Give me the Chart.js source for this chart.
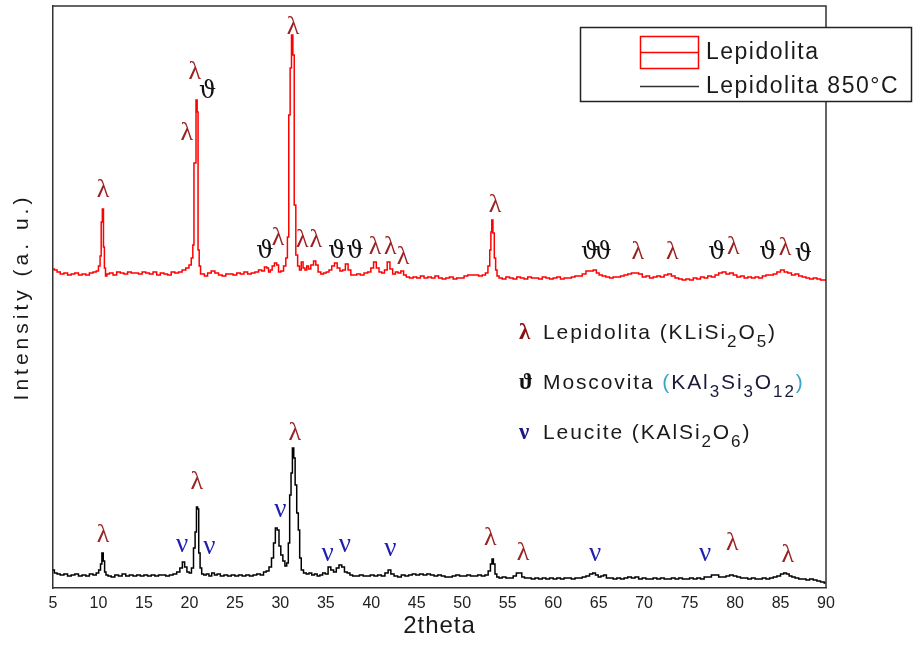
<!DOCTYPE html>
<html>
<head>
<meta charset="utf-8">
<script src="https://cdn.jsdelivr.net/npm/chart.js@4.4.0/dist/chart.umd.min.js"></script>
<style>
  html, body { margin: 0; padding: 0; background: #fff; }
</style>
</head>
<body>
<canvas id="myChart" width="922" height="647"></canvas>
<script>
// 2theta / intensity (a.u.)
const redTheta = [
  5, 5.3, 5.6, 6.0, 6.4, 6.8, 7.2, 7.6, 8.0, 8.4, 8.8, 9.2, 9.6, 9.9, 10.1,
  10.25, 10.35, 10.5, 10.6, 10.7, 10.85,
  11.0, 11.4, 11.8, 12.2, 12.6, 13.0, 13.4, 13.8, 14.2, 14.6, 15.0, 15.4, 15.8, 16.2, 16.6, 17.0, 17.4, 17.8, 18.2, 18.6, 19.0, 19.4, 19.8, 20.1,
  20.3, 20.45, 20.55, 20.65, 20.8, 20.9, 21.0, 21.15, 21.3,
  21.5, 21.8, 22.2, 22.6, 23.0, 23.4, 23.8, 24.2, 24.6, 25.0, 25.4, 25.8, 26.2, 26.6, 27.0, 27.4, 27.8, 28.1,
  28.4, 28.6, 28.8, 29.0, 29.2, 29.5, 29.7, 29.9, 30.2, 30.5, 30.7,
  30.85, 31.0, 31.15, 31.3, 31.45, 31.6, 31.8, 32.0,
  32.2, 32.4, 32.6, 32.8, 33.0, 33.2, 33.5, 33.8, 34.0, 34.3, 34.6, 34.9, 35.2, 35.5, 35.8, 36.1, 36.4, 36.7, 37.0, 37.3, 37.6, 37.9,
  38.2, 38.6, 39.0, 39.4, 39.8, 40.1, 40.4, 40.7, 41.0, 41.3, 41.6, 41.9, 42.2, 42.5, 42.8, 43.1, 43.4, 43.7,
  44.0, 44.4, 44.8, 45.2, 45.6, 46.0, 46.4, 46.8, 47.2, 47.6, 48.0, 48.4, 48.8, 49.2, 49.6, 50.0, 50.4, 50.8, 51.2, 51.6, 52.0, 52.4, 52.7, 52.95,
  53.1, 53.2, 53.3, 53.45, 53.6, 53.75, 53.9,
  54.2, 54.6, 55.0, 55.4, 55.8, 56.2, 56.6, 57.0, 57.4, 57.8, 58.2, 58.6, 59.0, 59.4, 59.8, 60.2, 60.6, 61.0, 61.4, 61.8, 62.2, 62.6,
  63.0, 63.4, 63.8, 64.2, 64.6, 64.9, 65.2, 65.6, 66.0, 66.4, 66.8, 67.2, 67.6, 68.0, 68.4, 68.8, 69.2, 69.6, 70.0, 70.4, 70.8, 71.2, 71.6, 72.0, 72.4, 72.8, 73.2, 73.6,
  74.0, 74.4, 74.8, 75.2, 75.6, 76.0, 76.4, 76.8, 77.2, 77.6, 78.0, 78.4, 78.8, 79.2, 79.6, 80.0, 80.4, 80.8, 81.2, 81.6, 82.0,
  82.4, 82.8, 83.2, 83.6, 84.0, 84.4, 84.8, 85.2, 85.6, 86.0, 86.4, 86.8, 87.2, 87.6, 88.0, 88.4, 88.8, 89.2, 89.6, 90.0
];
const redCounts = [
  319, 318, 316, 314, 315, 313, 314, 315, 313, 314, 313, 315, 316, 317, 322,
  332, 366, 379, 341, 320, 312,
  314, 315, 313, 316, 315, 314, 316, 315, 315, 314, 316, 315, 314, 316, 313, 315, 314, 313, 316, 315, 316, 318, 320, 323,
  330, 343, 425, 425, 488, 476, 338, 322, 314,
  314, 312, 315, 317, 315, 313, 312, 314, 314, 313, 315, 314, 316, 314, 315, 316, 318, 317,
  321, 320, 316, 318, 322, 325, 323, 316, 317, 322, 330,
  351, 473, 520, 553, 533, 383, 333, 322,
  318, 326, 320, 318, 322, 319, 323, 327, 323, 316, 314, 315, 316, 318, 322, 325, 320, 317, 318, 324, 318, 313,
  313, 314, 313, 315, 316, 320, 326, 320, 316, 315, 318, 326, 319, 314, 316, 315, 317, 313,
  311, 310, 311, 310, 312, 310, 311, 310, 312, 310, 309, 310, 311, 309, 310, 310, 312, 313, 313, 313, 312, 313, 315, 322,
  338, 356, 368, 355, 330, 318, 312,
  310, 309, 311, 310, 309, 311, 310, 309, 311, 310, 310, 309, 311, 310, 309, 310, 311, 309, 310, 310, 311, 312,
  312, 314, 317, 317, 318, 315, 313, 312, 311, 310, 311, 311, 312, 313, 314, 315, 315, 314, 311, 312, 310, 311, 312, 311, 313, 314, 312, 310,
  309, 308, 309, 308, 310, 309, 311, 310, 312, 311, 313, 315, 316, 314, 315, 313, 311, 312, 310, 311, 310,
  311, 310, 312, 313, 313, 314, 316, 318, 316, 315, 313, 314, 312, 311, 310, 309, 310, 309, 308, 308
];

const blackTheta = [
  5.0, 5.3, 5.6, 6.0, 6.4, 6.8, 7.2, 7.6, 8.0, 8.4, 8.8, 9.2, 9.6, 9.9,
  10.15, 10.3, 10.45, 10.6, 10.75, 10.9,
  11.2, 11.6, 12.0, 12.4, 12.8, 13.2, 13.6, 14.0, 14.4, 14.8, 15.2, 15.6, 16.0, 16.4, 16.8, 17.2, 17.6, 18.0, 18.4,
  18.8, 19.1, 19.35, 19.6, 19.85, 20.1,
  20.35, 20.55, 20.7, 20.85, 20.95, 21.1, 21.25, 21.45,
  21.7, 22.0, 22.3, 22.6, 22.9, 23.2, 23.6, 24.0, 24.4, 24.8, 25.2, 25.6, 26.0, 26.4, 26.8, 27.2, 27.6, 28.0,
  28.3, 28.6, 28.9, 29.15, 29.35, 29.55, 29.75, 29.95, 30.15, 30.4, 30.6,
  30.8, 30.95, 31.1, 31.25, 31.4, 31.55, 31.7, 31.9, 32.05, 32.2, 32.4,
  32.7, 33.0, 33.3, 33.6, 33.9, 34.2, 34.5, 34.8, 35.1, 35.4, 35.7, 36.0, 36.3, 36.6, 36.9, 37.2, 37.5, 37.8,
  38.1, 38.5, 38.9, 39.3, 39.7, 40.1, 40.5, 40.9, 41.3, 41.7, 42.0, 42.3, 42.7, 43.1, 43.5, 43.9, 44.3, 44.7,
  45.1, 45.5, 45.9, 46.3, 46.7, 47.1, 47.5, 47.9, 48.3, 48.7, 49.1, 49.5, 49.9, 50.3, 50.7, 51.1, 51.5, 51.9, 52.3, 52.7,
  53.0, 53.2, 53.35, 53.5, 53.7, 53.9,
  54.2, 54.6, 55.0, 55.4, 55.8, 56.1, 56.4, 56.7, 57.0, 57.4, 57.8, 58.2, 58.6, 59.0, 59.4, 59.8, 60.2, 60.6, 61.0, 61.4,
  61.8, 62.2, 62.6, 63.0, 63.4, 63.8, 64.2, 64.5, 64.8, 65.1, 65.4, 65.7, 66.0, 66.4, 66.8, 67.2, 67.6, 68.0, 68.4, 68.8,
  69.2, 69.6, 70.0, 70.4, 70.8, 71.2, 71.6, 72.0, 72.4, 72.8, 73.2, 73.6, 74.0, 74.4, 74.8, 75.2, 75.6, 76.0, 76.4, 76.8,
  77.2, 77.6, 78.0, 78.4, 78.8, 79.2, 79.6, 80.0, 80.4, 80.8, 81.2, 81.6, 82.0, 82.4, 82.8, 83.2, 83.6, 84.0,
  84.4, 84.8, 85.2, 85.5, 85.8, 86.1, 86.4, 86.8, 87.2, 87.6, 88.0, 88.4, 88.8, 89.2, 89.6, 90.0
];
const blackCounts = [
  18, 15, 14, 13, 14, 12, 13, 14, 12, 13, 12, 14, 13, 15,
  18, 24, 35, 27, 16, 13,
  12, 11, 13, 12, 14, 12, 13, 12, 13, 12, 13, 12, 13, 12, 13, 13, 12, 13, 14,
  16, 20, 26, 21, 16, 15,
  20, 40, 56, 81, 79, 35, 20, 14,
  13, 14, 12, 15, 13, 14, 12, 13, 12, 13, 12, 13, 12, 13, 12, 13, 14, 13,
  16, 17, 21, 30, 45, 60, 58, 42, 33, 27, 22,
  25, 45, 93, 115, 140, 130, 103, 75, 58, 30, 18,
  15, 14, 15, 13, 14, 12, 13, 15, 14, 21, 18, 16, 20, 23, 21, 16, 15, 13,
  12, 12, 13, 12, 12, 13, 12, 13, 12, 15, 18, 14, 12, 11, 13, 12, 13, 14,
  13, 14, 13, 14, 13, 12, 13, 12, 11, 11, 12, 13, 12, 12, 13, 12, 12, 13, 12, 13,
  17, 24, 29, 24, 14, 11,
  10, 11, 10, 10, 12, 15, 15, 11, 10, 10, 9, 10, 9, 10, 9, 10, 9, 10, 9, 10,
  10, 9, 10, 10, 11, 12, 14, 15, 13, 11, 12, 13, 10, 10, 9, 10, 9, 10, 11, 10,
  11, 9, 10, 9, 9, 10, 9, 10, 9, 9, 10, 9, 10, 9, 9, 10, 9, 10, 9, 11,
  11, 13, 13, 11, 11, 12, 13, 12, 11, 10, 10, 9, 10, 9, 9, 10, 9, 10,
  11, 12, 14, 15, 14, 12, 11, 10, 9, 9, 8, 9, 8, 7, 6, 5
];

// phase marks over the peaks
const markTheta = [10.5, 19.7, 20.6, 22.0, 31.4, 28.3, 29.75, 32.4, 33.9, 36.2, 38.2, 40.4, 42.1, 43.5,
  53.6, 64.0, 65.5, 69.3, 73.1, 78.0, 79.8, 83.6, 85.5, 87.5,
  10.5, 19.2, 22.2, 20.8, 30.0, 31.6, 35.2, 37.1, 42.1, 53.1, 56.7, 64.6, 76.7, 79.7, 85.8];
const markLevel = [398, 455, 516, 496, 561, 336, 350, 348, 348, 336, 336, 341, 341, 331,
  383, 335, 335, 336, 336, 335, 341, 335, 340, 333,
  53, 45, 43, 106, 80, 155, 36, 45, 41, 50, 35, 36, 36, 45, 33];
const markPhase = ['λ', 'λ', 'λ', 'ϑ', 'λ', 'ϑ', 'λ', 'λ', 'λ', 'ϑ', 'ϑ', 'λ', 'λ', 'λ',
  'λ', 'ϑ', 'ϑ', 'λ', 'λ', 'ϑ', 'λ', 'ϑ', 'λ', 'ϑ',
  'λ', 'ν', 'ν', 'λ', 'ν', 'λ', 'ν', 'ν', 'ν', 'λ', 'λ', 'ν', 'ν', 'λ', 'λ'];

const seriesNames = ['Lepidolita', 'Lepidolita 850°C'];
const xTicks = [5, 10, 15, 20, 25, 30, 35, 40, 45, 50, 55, 60, 65, 70, 75, 80, 85, 90];

const phaseColor = { 'λ': '#9a2222', 'ϑ': '#111111', 'ν': '#2020b0' };
const phaseFont = {
    'λ': '26px "Liberation Serif", serif',
    'ϑ': '24px "DejaVu Serif", serif',
    'ν': '27px "Liberation Serif", serif'
};
const SANS = '"Liberation Sans", Arial, sans-serif';

function toPoints(xs, ys) {
    return xs.map((x, i) => ({ x: x, y: ys[i] }));
}

// frame, titles, marks and the two legends
const decorPlugin = {
    id: 'decor',
    afterDraw(chart) {
        const ctx = chart.ctx;
        const a = chart.chartArea;
        const xs = chart.scales.x, ys = chart.scales.y;

        ctx.save();
        ctx.strokeStyle = '#333';
        ctx.lineWidth = 1.5;
        ctx.beginPath();
        ctx.moveTo(a.left, a.top);
        ctx.lineTo(a.right, a.top);
        ctx.lineTo(a.right, a.bottom);
        ctx.stroke();

        // peak marks
        ctx.textAlign = 'center';
        ctx.textBaseline = 'middle';
        markTheta.forEach((t, i) => {
            const p = markPhase[i];
            ctx.font = phaseFont[p];
            ctx.fillStyle = phaseColor[p];
            ctx.fillText(p, xs.getPixelForValue(t), ys.getPixelForValue(markLevel[i]) + (p === 'ν' ? 2 : 0));
        });

        // axis titles
        ctx.fillStyle = '#1a1a1a';
        ctx.font = '24px ' + SANS;
        ctx.letterSpacing = '1px';
        ctx.textAlign = 'center';
        ctx.textBaseline = 'alphabetic';
        ctx.fillText('2theta', (a.left + a.right) / 2, 633);

        ctx.save();
        ctx.translate(22, (a.top + a.bottom) / 2);
        ctx.rotate(-Math.PI / 2);
        ctx.font = '21px ' + SANS;
        ctx.letterSpacing = '4px';
        ctx.textBaseline = 'middle';
        ctx.fillText('Intensity (a. u.)', 0, 0);
        ctx.restore();

        // series legend
        ctx.letterSpacing = '0px';
        ctx.lineWidth = 1.5;
        ctx.strokeStyle = '#222';
        ctx.fillStyle = '#fff';
        ctx.fillRect(580, 27, 332, 75);
        ctx.strokeRect(580.5, 27.5, 331, 74);
        const ds = chart.data.datasets;
        ctx.strokeStyle = ds[0].borderColor;
        ctx.lineWidth = 1.5;
        ctx.strokeRect(640.5, 36.5, 58, 32);
        ctx.beginPath(); ctx.moveTo(640, 52.5); ctx.lineTo(699, 52.5); ctx.stroke();
        ctx.strokeStyle = '#333';
        ctx.beginPath(); ctx.moveTo(640, 86.5); ctx.lineTo(699, 86.5); ctx.stroke();
        ctx.fillStyle = '#1a1a1a';
        ctx.font = '23px ' + SANS;
        ctx.letterSpacing = '1.5px';
        ctx.textAlign = 'left';
        ctx.textBaseline = 'middle';
        ctx.fillText(ds[0].label, 706, 53);
        ctx.fillText(ds[1].label, 706, 87);

        // phase key
        const rows = [
            { sym: 'λ', y: 333, parts: [['Lepidolita ', 0, '#1a1a1a'], ['(', 0, '#1a1a1a'], ['KLiSi', 0, '#1a1a1a'], ['2', 1, '#1a1a1a'], ['O', 0, '#1a1a1a'], ['5', 1, '#1a1a1a'], [')', 0, '#1a1a1a']] },
            { sym: 'ϑ', y: 383, parts: [['Moscovita ', 0, '#1a1a1a'], ['(', 0, '#3aa6c6'], ['KAl', 0, '#1a1a3a'], ['3', 1, '#1a1a3a'], ['Si', 0, '#1a1a3a'], ['3', 1, '#1a1a3a'], ['O', 0, '#1a1a3a'], ['12', 1, '#1a1a3a'], [')', 0, '#3aa6c6']] },
            { sym: 'ν', y: 433, parts: [['Leucite ', 0, '#1a1a1a'], ['(', 0, '#1a1a1a'], ['KAlSi', 0, '#1a1a1a'], ['2', 1, '#1a1a1a'], ['O', 0, '#1a1a1a'], ['6', 1, '#1a1a1a'], [')', 0, '#1a1a1a']] }
        ];
        const symColor = { 'λ': '#8b0f0f', 'ϑ': '#111', 'ν': '#1a1a80' };
        rows.forEach(r => {
            ctx.letterSpacing = '0px';
            ctx.font = 'bold 23px "Liberation Serif", "DejaVu Serif", serif';
            ctx.fillStyle = symColor[r.sym];
            ctx.fillText(r.sym, 519, r.y);
            let x = 543;
            r.parts.forEach(([t, sub, col]) => {
                ctx.font = (sub ? '17px ' : '21px ') + SANS;
                ctx.letterSpacing = '1.9px';
                ctx.fillStyle = col;
                ctx.fillText(t, x, r.y + (sub ? 9 : 0));
                x += ctx.measureText(t).width;
            });
        });
        ctx.restore();
    }
};

new Chart(document.getElementById('myChart').getContext('2d'), {
    type: 'line',
    data: {
        datasets: [{
            label: seriesNames[0],
            data: toPoints(redTheta, redCounts),
            borderColor: '#ff0000',
            borderWidth: 1.5,
            pointRadius: 0,
            stepped: 'middle',
            fill: false
        }, {
            label: seriesNames[1],
            data: toPoints(blackTheta, blackCounts),
            borderColor: '#000000',
            borderWidth: 1.5,
            pointRadius: 0,
            stepped: 'middle',
            fill: false
        }]
    },
    options: {
        responsive: false,
        animation: false,
        layout: { padding: { top: 6, right: 96, left: 0, bottom: 0 } },
        plugins: { legend: { display: false }, tooltip: { enabled: false } },
        scales: {
            x: {
                type: 'linear',
                min: 5,
                max: 90,
                afterBuildTicks: scale => { scale.ticks = xTicks.map(v => ({ value: v })); },
                afterFit: scale => { scale.height = 59; },
                grid: { display: false },
                border: { display: true, color: '#333', width: 1.5 },
                ticks: { color: '#222', font: { size: 16, family: SANS }, padding: -2, maxRotation: 0, autoSkip: false }
            },
            y: {
                min: 0,
                max: 582,
                afterFit: scale => { scale.width = 53; },
                grid: { display: false },
                border: { display: true, color: '#333', width: 1.5 },
                ticks: { display: false }
            }
        }
    },
    plugins: [decorPlugin]
});
</script>
</body>
</html>
